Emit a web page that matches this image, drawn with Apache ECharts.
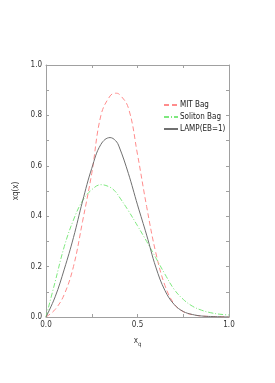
<!DOCTYPE html>
<html>
<head>
<meta charset="utf-8">
<script src="https://cdn.jsdelivr.net/npm/echarts@6/dist/echarts.min.js"></script>
<style>
html,body{margin:0;padding:0;background:#fff;}
#c{width:275px;height:383px;}
</style>
</head>
<body>
<div id="c"></div>
<script>
// data
const xs = [0, 0.05, 0.1, 0.15, 0.2, 0.25, 0.3, 0.35, 0.38, 0.4, 0.45, 0.5, 0.55, 0.6, 0.65, 0.7, 0.75, 0.8, 0.85, 0.9, 0.95, 1.0];
const mitBag = [0, 0.03, 0.09, 0.20, 0.38, 0.57, 0.80, 0.877, 0.888, 0.884, 0.83, 0.645, 0.438, 0.255, 0.125, 0.052, 0.021, 0.009, 0.004, 0.002, 0.001, 0];
const solitonBag = [0, 0.14, 0.28, 0.385, 0.462, 0.505, 0.525, 0.515, 0.497, 0.477, 0.422, 0.362, 0.30, 0.235, 0.17, 0.11, 0.07, 0.043, 0.027, 0.017, 0.011, 0.008];
const lamp = [0, 0.08, 0.19, 0.315, 0.46, 0.59, 0.685, 0.712, 0.70, 0.675, 0.57, 0.445, 0.325, 0.198, 0.105, 0.05, 0.022, 0.01, 0.004, 0.002, 0.001, 0];
const seriesNames = ['MIT Bag', 'Soliton Bag', 'LAMP(EB=1)'];
const yTicks = [0.0, 0.2, 0.4, 0.6, 0.8, 1.0];
const xTickLabels = [0.0, 0.5, 1.0];

const pair = arr => xs.map((x, i) => [x, arr[i]]);
const font = '"Liberation Sans Narrow", "Arial Narrow", "DejaVu Sans Condensed", sans-serif';
const frame = '#a0a0a0';

const chart = echarts.init(document.getElementById('c'), null, {renderer: 'canvas'});
const baseAxis = {
  min: 0, max: 1,
  axisLine: {show: true, onZero: false, lineStyle: {color: frame, width: 1}},
  splitLine: {show: false},
};
chart.setOption({
  backgroundColor: '#fff',
  animation: false,
  grid: {left: 46, right: 46, top: 65, bottom: 66},
  legend: {
    orient: 'vertical', left: 158, top: 96,
    itemWidth: 14, itemHeight: 8, itemGap: 4,
    itemStyle: {opacity: 0},
    textStyle: {fontSize: 8, fontFamily: font, color: '#222', padding: [0, 0, 0, -3]},
    data: seriesNames
  },
  xAxis: [
    Object.assign({}, baseAxis, {
      type: 'value', position: 'bottom', interval: 0.25,
      axisTick: {show: true, inside: true, length: 3, lineStyle: {color: frame}},
      axisLabel: {fontSize: 8, fontFamily: font, color: '#333', margin: 4,
        formatter: v => xTickLabels.some(t => Math.abs(t - v) < 1e-6) ? v.toFixed(1) : ''},
      name: 'x{s|q}', nameLocation: 'middle', nameGap: 18,
      nameTextStyle: {fontSize: 8, fontFamily: font, color: '#333',
        rich: {s: {fontSize: 6, fontFamily: font, color: '#333', verticalAlign: 'bottom', padding: [6, 0, 0, 0]}}}
    }),
    Object.assign({}, baseAxis, {
      type: 'value', position: 'top', interval: 0.25,
      axisTick: {show: true, inside: true, length: 3, lineStyle: {color: frame}},
      axisLabel: {show: false}
    })
  ],
  yAxis: [
    Object.assign({}, baseAxis, {
      type: 'value', position: 'left', interval: 0.1,
      axisTick: {show: true, inside: true, length: 3, lineStyle: {color: frame}},
      axisLabel: {fontSize: 8, fontFamily: font, color: '#333', margin: 4,
        formatter: v => yTicks.some(t => Math.abs(t - v) < 1e-6) ? v.toFixed(1) : ''},
      name: 'xq(x)', nameLocation: 'middle', nameGap: 14, nameRotate: 90,
      nameTextStyle: {fontSize: 8, fontFamily: font, color: '#333'}
    }),
    Object.assign({}, baseAxis, {
      type: 'value', position: 'right', interval: 0.1,
      axisTick: {show: true, inside: true, length: 3, lineStyle: {color: frame}},
      axisLabel: {show: false}
    })
  ],
  series: [
    {name: seriesNames[0], type: 'line', smooth: 0.4, symbol: 'none', data: pair(mitBag),
      lineStyle: {color: '#ff8c8c', width: 1, type: [5, 3]}, itemStyle: {color: '#ff8c8c'}},
    {name: seriesNames[1], type: 'line', smooth: 0.4, symbol: 'none', data: pair(solitonBag),
      lineStyle: {color: '#7ee87e', width: 1, type: [5, 2, 1, 2]}, itemStyle: {color: '#7ee87e'}},
    {name: seriesNames[2], type: 'line', smooth: 0.4, symbol: 'none', data: pair(lamp),
      lineStyle: {color: '#707070', width: 1, type: 'solid'}, itemStyle: {color: '#707070'}}
  ]
});
</script>
</body>
</html>
